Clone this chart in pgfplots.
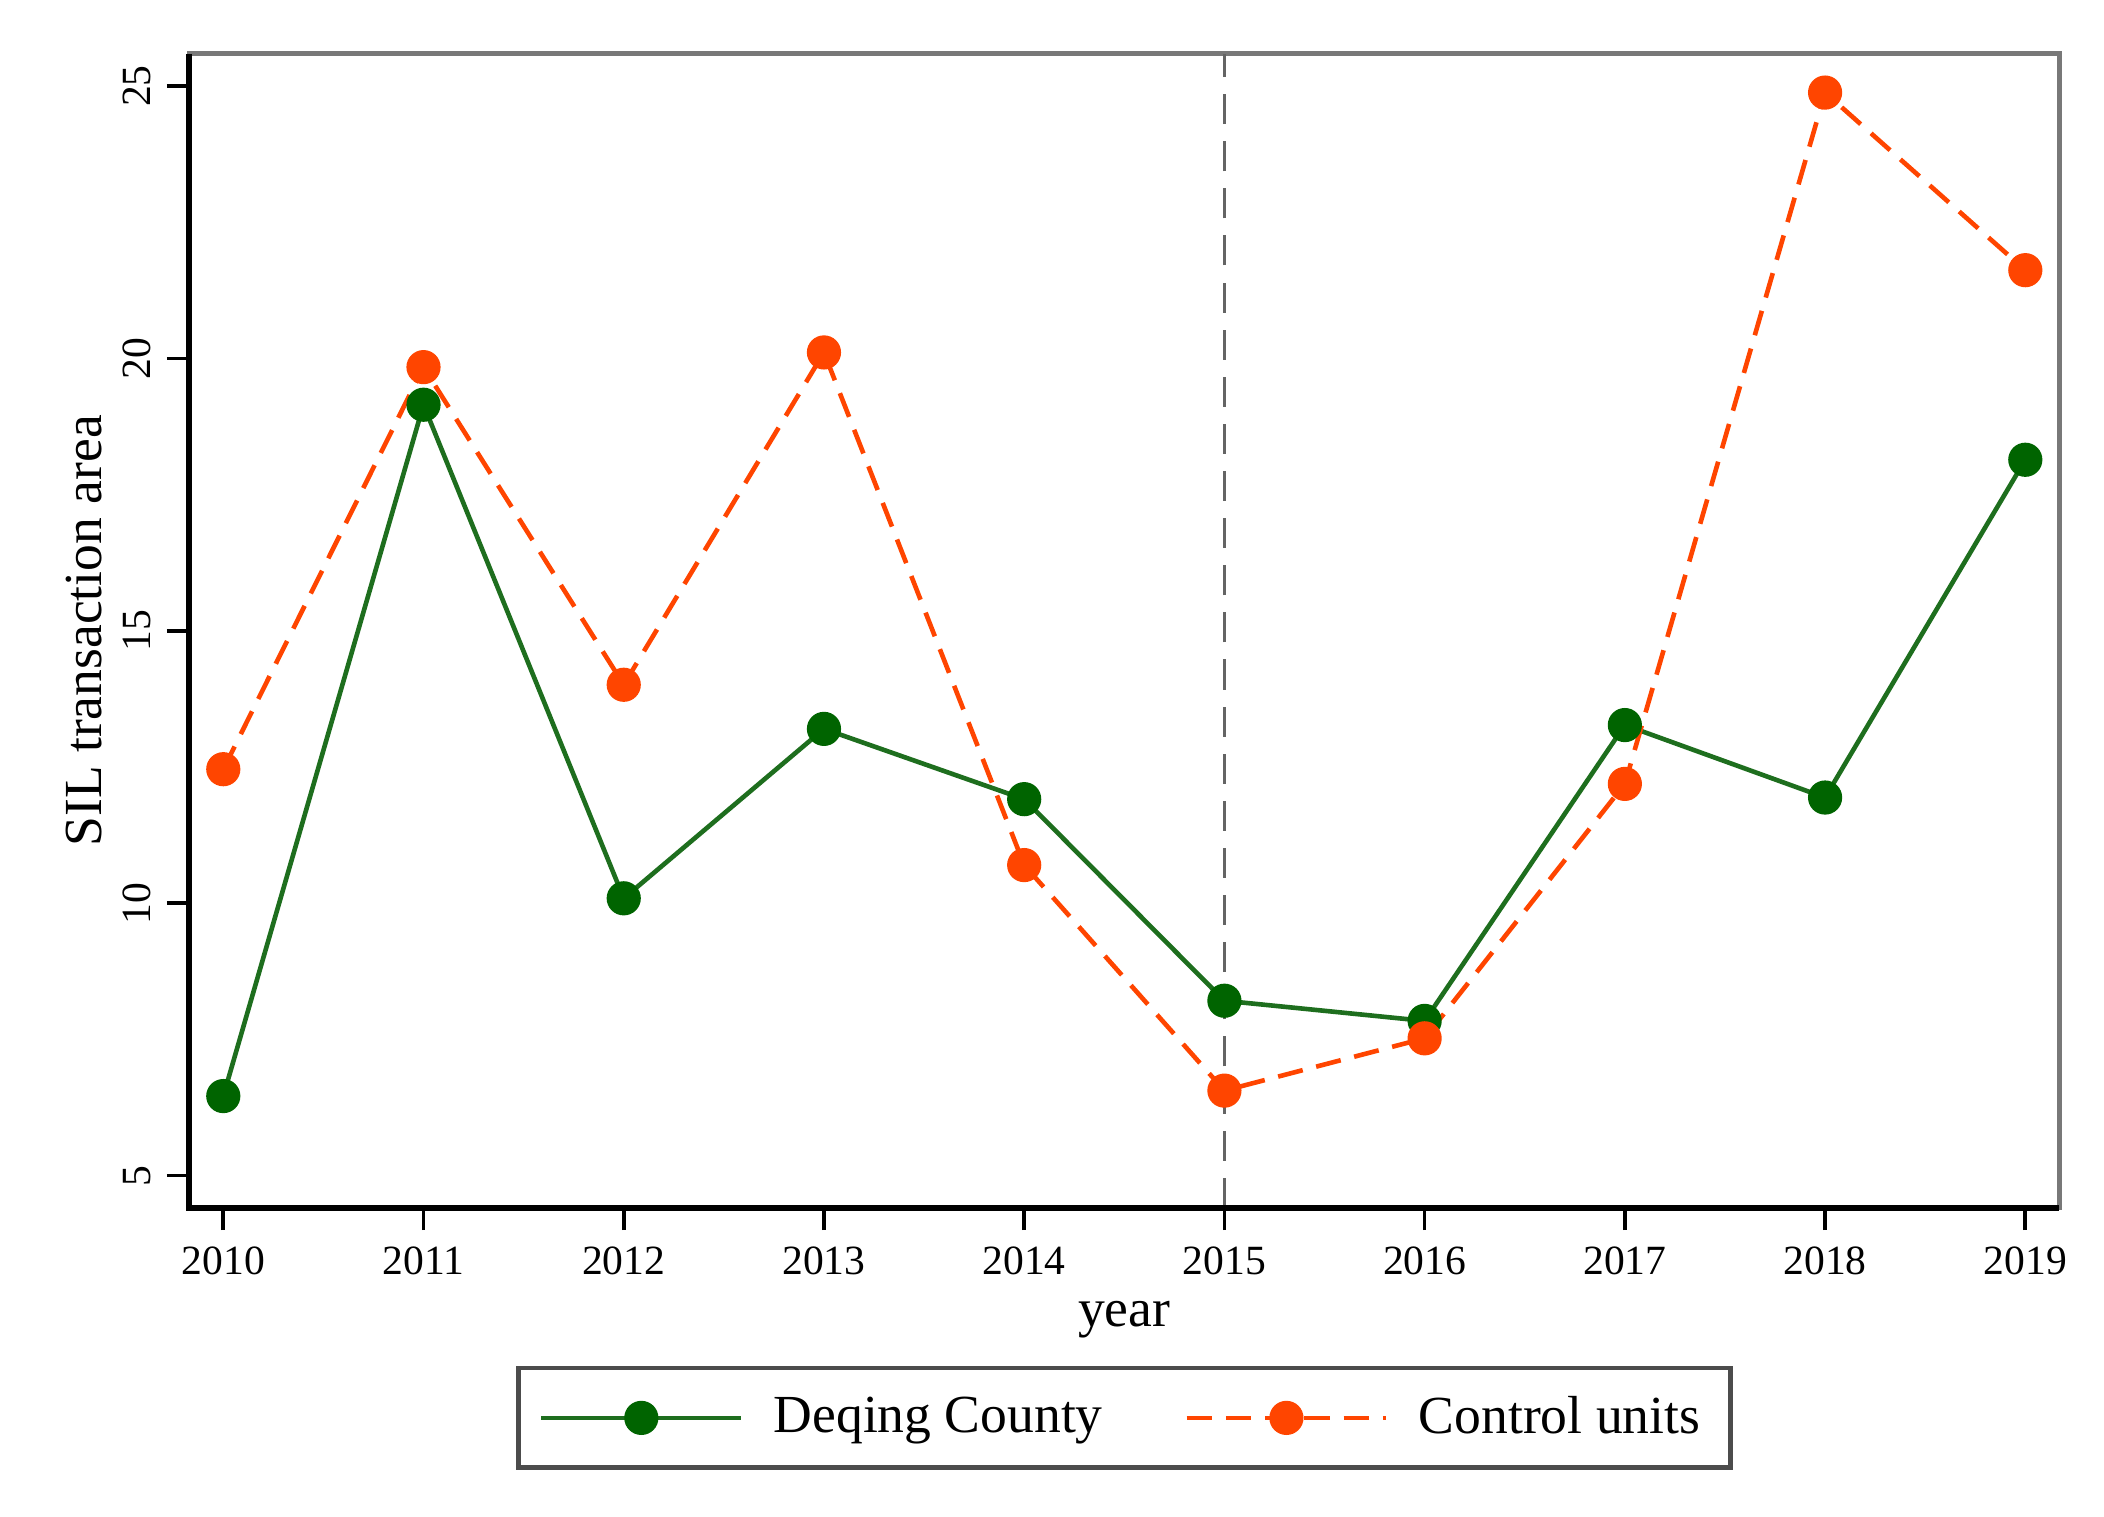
\documentclass[border=0pt]{standalone}
\usepackage{fontspec}
\setmainfont{Liberation Serif}
\usepackage{pgfplots}
\pgfplotsset{compat=1.18}
\usetikzlibrary{calc}
\definecolor{deqmark}{RGB}{0,100,0}
\definecolor{deqline}{RGB}{30,110,30}
\definecolor{ctrl}{RGB}{255,69,0}
\definecolor{boxgray}{RGB}{120,120,120}
\definecolor{refgray}{RGB}{100,100,100}
\begin{document}
\begin{tikzpicture}
\begin{axis}[
  name=ax,
  scale only axis,
  width=14.23cm, height=8.78cm,
  xmin=2009.83, xmax=2019.17,
  ymin=4.41, ymax=25.59,
  xtick={2010,2011,...,2019},
  ytick={5,10,15,20,25},
  xtick pos=left, ytick pos=left,
  tick align=outside,
  major tick length=0.17cm,
  tick style={black, line width=0.8pt},
  axis line style={boxgray, line width=1.1pt},
  /pgf/number format/1000 sep={},
  /pgf/number format/assume math mode=true,
  ticklabel style={font=\fontsize{9}{10}\selectfont},
  yticklabel style={rotate=90, anchor=south},
  xticklabel style={yshift=0pt},
  xlabel={year},
  ylabel={SIL transaction area},
  label style={font=\fontsize{11.6}{13}\selectfont},
  xlabel style={yshift=1pt},
  ylabel style={yshift=-2.5pt},
  legend columns=2,
  legend style={at={(0.5,-0.137)}, anchor=north, draw=black!70, line width=1pt,
    font=\fontsize{11.6}{13}\selectfont, inner xsep=4.5pt, inner ysep=4pt,
    /tikz/every odd column/.append style={column sep=0.16cm},
    /tikz/every even column/.append style={column sep=0.55cm}},
  legend cell align=left,
  legend image code/.code={\draw[mark repeat=2,mark phase=2,#1] plot coordinates {(0cm,0cm) (0.76cm,0cm) (1.52cm,0cm)};},
  after end axis/.code={\draw[black, line width=1.2pt] (rel axis cs:0,1) -- (rel axis cs:0,0) -- (rel axis cs:1,0);},
]
\addplot[refgray, line width=0.8pt, dash pattern=on 6.5pt off 3.7pt, forget plot] coordinates {(2015,4.41) (2015,25.59)};
\addplot[deqline, line width=1pt, mark=*, mark size=3.2pt, mark options={fill=deqmark, draw=deqmark, solid}] coordinates {
(2010,6.46) (2011,19.15) (2012,10.09) (2013,13.20) (2014,11.91) (2015,8.21) (2016,7.84) (2017,13.27) (2018,11.94) (2019,18.14)};
\addlegendentry{Deqing County}
\addplot[ctrl, line width=1pt, dash pattern=on 5.5pt off 3pt, mark=*, mark size=3.2pt, mark options={fill=ctrl, draw=ctrl, solid}] coordinates {
(2010,12.46) (2011,19.84) (2012,14.01) (2013,20.11) (2014,10.70) (2015,6.56) (2016,7.52) (2017,12.19) (2018,24.88) (2019,21.62)};
\addlegendentry{Control units}
\end{axis}
\pgfresetboundingbox
\path ($(ax.south west)+(-1.44cm,-2.35cm)$) rectangle ($(ax.north east)+(0.34cm,0.41cm)$);
\end{tikzpicture}
\end{document}
